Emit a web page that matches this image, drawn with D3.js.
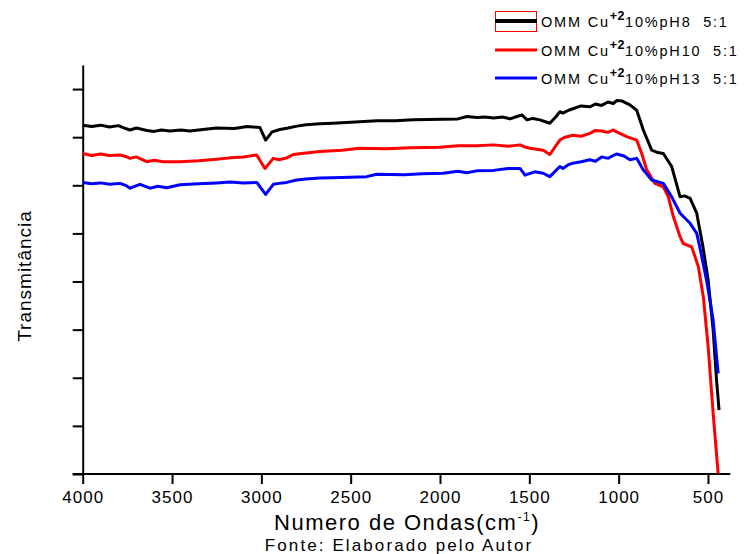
<!DOCTYPE html>
<html>
<head>
<meta charset="utf-8">
<script src="https://cdn.jsdelivr.net/npm/d3@7"></script>
<style>
  html, body { margin: 0; padding: 0; background: #fff; }
  svg { display: block; font-family: "Liberation Sans", Arial, sans-serif; }
</style>
</head>
<body>
<svg id="chart" width="747" height="554"></svg>
<script>
// ---- data ----
const seriesNames = ["OMM Cu", "OMM Cu", "OMM Cu"];
const seriesSuffix = ["10%pH8\u00a0\u00a05:1", "10%pH10\u00a0\u00a05:1", "10%pH13\u00a0\u00a05:1"];
const seriesColors = ["#000000", "#ff0000", "#0000ff"];

const xTicks = [4000, 3500, 3000, 2500, 2000, 1500, 1000, 500];
const yTicks = [0, 10, 20, 30, 40, 50, 60, 70, 80];

const pH8Wn = [4000, 3950, 3900, 3850, 3800, 3774, 3735, 3700, 3640, 3600, 3560, 3511, 3450, 3400, 3327, 3250, 3150, 3080, 3008, 2976, 2940, 2896, 2850, 2801, 2750, 2672, 2600, 2500, 2353, 2250, 2150, 1984, 1900, 1850, 1794, 1750, 1700, 1650, 1608, 1570, 1541, 1513, 1480, 1441, 1385, 1350, 1329, 1312, 1280, 1256, 1210, 1161, 1130, 1095, 1060, 1030, 1011, 980, 937, 899, 862, 815, 780, 750, 703, 656, 630, 600, 563, 528, 499, 471, 452, 438];
const pH8T  = [72.5, 72.2, 72.5, 72.1, 72.4, 72.0, 71.5, 71.9, 71.4, 71.2, 71.5, 71.3, 71.5, 71.3, 71.6, 71.9, 71.8, 72.2, 72.0, 69.4, 71.1, 71.6, 71.9, 72.3, 72.6, 72.8, 72.9, 73.1, 73.4, 73.4, 73.6, 73.7, 73.8, 74.3, 74.1, 74.2, 74.0, 74.2, 73.8, 74.3, 74.6, 73.6, 73.9, 73.6, 72.9, 74.3, 75.3, 75.0, 75.6, 75.9, 76.5, 76.3, 76.9, 76.6, 77.3, 77.0, 77.6, 77.5, 76.7, 75.6, 71.5, 67.3, 66.8, 66.6, 63.9, 57.6, 57.8, 57.3, 54.2, 47.2, 40.3, 29.9, 19.5, 13.3];

const pH10Wn = [4000, 3950, 3900, 3850, 3791, 3760, 3735, 3700, 3642, 3600, 3550, 3455, 3350, 3250, 3176, 3100, 3026, 2980, 2933, 2900, 2858, 2821, 2750, 2672, 2550, 2448, 2300, 2168, 2000, 1900, 1795, 1700, 1620, 1552, 1520, 1496, 1422, 1385, 1350, 1329, 1300, 1256, 1210, 1161, 1130, 1095, 1060, 1030, 1011, 955, 899, 871, 843, 797, 750, 722, 694, 656, 638, 591, 554, 526, 499, 471, 443];
const pH10T  = [66.6, 66.2, 66.5, 66.2, 66.3, 66.0, 65.6, 65.9, 64.9, 65.2, 64.9, 64.9, 65.1, 65.4, 65.7, 65.9, 66.3, 63.5, 65.6, 65.3, 65.7, 66.4, 66.7, 67.0, 67.3, 67.7, 67.6, 67.8, 67.9, 68.2, 68.2, 68.4, 68.1, 68.4, 67.9, 67.7, 67.3, 66.4, 68.3, 69.4, 70.0, 70.4, 70.2, 70.8, 71.4, 71.3, 71.0, 71.5, 71.1, 70.1, 69.4, 66.6, 63.2, 60.4, 59.7, 57.6, 53.5, 49.3, 47.9, 47.2, 43.1, 36.8, 26.5, 12.6, 0.1];

const pH13Wn = [4000, 3950, 3900, 3850, 3791, 3760, 3735, 3679, 3623, 3580, 3530, 3455, 3350, 3250, 3176, 3100, 3026, 2976, 2933, 2900, 2858, 2802, 2750, 2672, 2550, 2410, 2354, 2200, 2100, 1982, 1900, 1850, 1795, 1700, 1620, 1552, 1524, 1470, 1422, 1385, 1329, 1312, 1280, 1256, 1210, 1161, 1130, 1095, 1060, 1030, 1011, 970, 937, 899, 862, 815, 750, 703, 656, 600, 563, 546, 508, 471, 443];
const pH13T  = [60.6, 60.3, 60.5, 60.2, 60.4, 60.0, 59.4, 60.2, 59.4, 59.8, 59.5, 60.1, 60.3, 60.5, 60.7, 60.5, 60.6, 58.1, 60.2, 60.4, 60.6, 61.1, 61.3, 61.5, 61.6, 61.8, 62.3, 62.2, 62.4, 62.5, 62.9, 62.6, 63.0, 63.1, 63.5, 63.5, 62.1, 62.8, 62.5, 61.8, 63.9, 63.5, 64.3, 64.6, 64.9, 65.3, 65.0, 65.9, 65.6, 66.2, 66.5, 66.1, 65.3, 65.6, 63.2, 61.1, 60.4, 57.6, 54.2, 52.1, 50.0, 47.2, 40.3, 32.0, 20.9];

const seriesWn = [pH8Wn, pH10Wn, pH13Wn];
const seriesT = [pH8T, pH10T, pH13T];

// ---- layout ----
const svg = d3.select("#chart");
const x = d3.scaleLinear().domain([4000, 375]).range([82.7, 730.3]);
const y = d3.scaleLinear().domain([0, 85]).range([474, 65]);

// axes
const xAxis = d3.axisBottom(x).tickValues(xTicks).tickSize(10).tickSizeOuter(0).tickPadding(7).tickFormat(d3.format("d"));
const yAxis = d3.axisLeft(y).tickValues(yTicks).tickSize(10).tickSizeOuter(0).tickFormat("");

const gx = svg.append("g").attr("transform", `translate(0,${y(0)})`).call(xAxis);
const gy = svg.append("g").attr("transform", `translate(${x(4000)},0)`).call(yAxis);
[gx, gy].forEach(g => {
  g.selectAll("path, line").attr("stroke", "#000").attr("stroke-width", 2);
});
gx.select(".domain").attr("d", `M${x(4000) - 10},0H${x.range()[1]}`);
gx.selectAll("text")
  .attr("font-size", 17)
  .attr("letter-spacing", 1)
  .attr("fill", "#000")
  .attr("font-family", "'Liberation Sans', Arial, sans-serif");

// curves
const line = d3.line().x(d => x(d[0])).y(d => y(d[1]));
seriesWn.forEach((wn, i) => {
  const pts = wn.map((w, k) => [w, seriesT[i][k]]);
  svg.append("path")
    .datum(pts)
    .attr("fill", "none")
    .attr("stroke", seriesColors[i])
    .attr("stroke-width", 3)
    .attr("stroke-linejoin", "round")
    .attr("d", line);
});

// axis titles
svg.append("text")
  .attr("x", 407).attr("y", 530)
  .attr("text-anchor", "middle")
  .attr("font-size", 22).attr("letter-spacing", 1.5)
  .html('Numero de Ondas(cm<tspan font-size="12" dy="-9">-1</tspan><tspan dy="9">)</tspan>');

svg.append("text")
  .attr("x", 399).attr("y", 551)
  .attr("text-anchor", "middle")
  .attr("font-size", 17).attr("letter-spacing", 2.1)
  .text("Fonte: Elaborado pelo Autor");

svg.append("text")
  .attr("transform", "translate(31,276) rotate(-90)")
  .attr("text-anchor", "middle")
  .attr("font-size", 19).attr("letter-spacing", 1)
  .text("Transmitância");

// legend
const legY = [21, 50, 78];
seriesColors.forEach((c, i) => {
  const g = svg.append("g").attr("transform", `translate(0,${legY[i]})`);
  if (i === 0) {
    g.append("rect").attr("x", 495.5).attr("y", -9.5).attr("width", 41).attr("height", 20)
      .attr("fill", "none").attr("stroke", "#ff0000").attr("stroke-width", 1);
  }
  g.append("line").attr("x1", 495).attr("x2", 537).attr("y1", 0).attr("y2", 0)
    .attr("stroke", c).attr("stroke-width", i === 0 ? 4 : 3);
  g.append("text").attr("x", 541).attr("y", 6)
    .attr("font-size", 14.5).attr("letter-spacing", 1.8)
    .html(`${seriesNames[i]}<tspan font-size="12.5" font-weight="bold" dy="-7" letter-spacing="0.5">+2</tspan><tspan dy="7">${seriesSuffix[i]}</tspan>`);
});
</script>
</body>
</html>
